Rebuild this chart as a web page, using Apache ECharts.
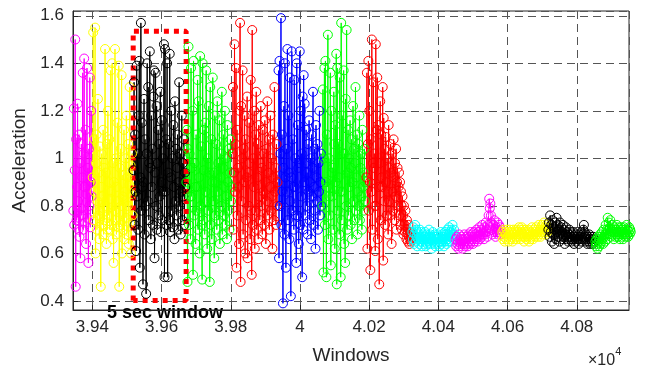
<!DOCTYPE html>
<html lang="en">
<head>
	<meta charset="UTF-8">
	<title>windows</title>
	<style type="text/css">
	body,html{
		width: 100%;
		height: 100%;
		margin: 0;
		padding: 0;
		background: #fff;
	}
	#container{
		width: 645px;
		height: 371px;
	}
	</style>
</head>
<body>
<div id="container"></div>
<script type="text/javascript" src="https://cdn.jsdelivr.net/npm/echarts@6/dist/echarts.min.js"></script>
<script type="text/javascript">
	// window index ranges of each segment (raw units, axis shows x 10^4)
	var segStart = [39345, 39401, 39519, 39672, 39805, 39938, 40065, 40192, 40325, 40450, 40585, 40718, 40854];
	var segEnd   = [39398, 39516, 39669, 39802, 39935, 40062, 40189, 40322, 40447, 40582, 40715, 40851, 40956];
	var segColor = ['#ff00ff', '#ffff00', '#000000', '#00ff00', '#ff0000', '#0000ff', '#00ff00',
		'#ff0000', '#00ffff', '#ff00ff', '#ffff00', '#000000', '#00ff00'];

	// acceleration values per segment
	var magenta1 = [0.78, 1.21, 0.72, 0.95, 1.50, 0.46, 1.08, 0.74, 0.88, 1.23, 0.82, 0.70, 1.10, 0.67,
		0.98, 0.58, 0.79, 1.06, 0.76, 0.92, 1.36, 0.70, 1.02, 1.42, 0.88, 0.73, 1.12, 0.64, 0.85, 1.38,
		0.75, 0.96, 0.56, 1.04, 0.80, 1.34, 0.71, 0.90, 1.20, 0.84];
	var yellow1 = [0.92, 1.53, 0.74, 1.08, 0.86, 1.55, 0.60, 0.98, 1.10, 0.70, 0.82, 1.25, 0.76, 0.94,
		0.66, 1.05, 0.78, 0.46, 0.88, 1.02, 0.72, 0.84, 1.12, 0.68, 0.96, 0.74, 1.46, 0.80, 0.94, 0.64,
		1.06, 0.70, 1.20, 0.76, 0.90, 1.08, 0.70, 0.83, 1.37, 0.86, 0.72, 1.40, 0.66, 0.98, 0.56, 0.90,
		0.78, 1.46, 0.74, 1.00, 0.68, 0.88, 1.15, 0.82, 0.71, 1.39, 0.46, 0.96, 0.72, 1.04, 0.80, 1.35,
		0.60, 0.84, 0.93, 0.70, 1.12, 0.66, 0.86, 1.00, 0.75, 1.18, 0.68, 0.92, 0.80, 1.06, 0.64, 0.89,
		1.30, 0.73, 0.97, 0.60, 0.85, 1.02, 0.76];
	var black1 = [0.95, 1.32, 0.72, 1.10, 0.86, 0.61, 1.39, 0.84, 1.02, 0.70, 1.18, 1.41, 0.54, 0.92,
		1.57, 0.78, 1.15, 0.88, 0.47, 0.90, 1.25, 0.68, 1.08, 0.80, 0.43, 1.02, 1.40, 0.82, 1.30, 0.74,
		0.98, 1.45, 0.96, 0.66, 1.18, 0.88, 1.04, 0.72, 1.26, 1.37, 0.58, 0.94, 1.36, 0.80, 1.22, 0.70,
		0.98, 1.12, 0.76, 1.06, 0.84, 1.28, 0.69, 0.90, 1.16, 0.74, 1.00, 0.86, 1.48, 0.50, 1.46, 0.86,
		1.08, 0.72, 1.40, 0.50, 0.94, 1.06, 0.74, 1.44, 0.69, 0.92, 1.20, 0.78, 1.00, 0.71, 1.14, 0.88,
		0.66, 1.24, 0.82, 1.04, 0.76, 0.96, 1.10, 0.70, 0.90, 1.32, 0.80, 1.02, 0.68, 0.86, 1.18, 0.74,
		0.98, 0.84, 1.08, 0.72, 0.94, 0.88];
	var green1 = [0.90, 1.12, 0.48, 1.04, 1.47, 0.72, 1.02, 0.84, 0.66, 1.38, 0.84, 0.96, 1.20, 0.51,
		1.41, 0.76, 0.98, 0.88, 0.64, 1.10, 0.78, 0.88, 1.33, 0.70, 1.24, 0.92, 0.60, 1.43, 0.80, 1.05,
		0.72, 0.49, 1.40, 0.74, 0.95, 1.12, 0.68, 1.15, 0.86, 1.37, 0.82, 0.62, 1.00, 0.78, 1.22, 0.94,
		0.48, 1.30, 0.72, 1.08, 0.66, 0.90, 1.34, 0.82, 0.94, 0.58, 1.18, 0.76, 0.90, 1.06, 0.70, 1.24,
		0.86, 0.98, 0.74, 1.16, 0.64, 0.92, 1.02, 0.80, 1.28, 0.68, 0.96, 1.10, 0.76, 0.88, 1.20, 0.72,
		1.00, 0.84, 0.66, 1.14, 0.90, 0.78, 1.04, 0.70, 0.94, 1.08, 0.82, 0.88];
	var red1 = [1.02, 1.30, 0.70, 0.94, 1.48, 0.86, 1.06, 1.38, 0.54, 1.12, 0.76, 0.96, 0.88, 0.64,
		1.20, 1.57, 0.48, 1.22, 0.82, 1.00, 1.37, 0.68, 1.04, 0.90, 1.18, 0.60, 1.08, 0.74, 0.92, 1.26,
		0.58, 0.94, 0.80, 1.15, 0.98, 0.66, 1.33, 0.78, 0.51, 1.54, 0.72, 1.00, 0.88, 1.20, 0.62, 1.10,
		0.78, 1.28, 0.70, 0.92, 1.06, 0.66, 1.14, 0.84, 0.74, 0.98, 1.22, 0.80, 0.96, 0.68, 1.12, 0.86,
		1.02, 0.72, 1.16, 0.90, 0.64, 1.04, 0.82, 1.24, 0.76, 0.94, 1.08, 0.70, 0.88, 1.18, 0.78, 1.00,
		0.84, 0.62, 1.10, 0.92, 0.74, 1.30, 0.86, 0.96, 0.72, 1.06, 0.80, 0.90];
	var blue1 = [1.37, 0.58, 1.41, 0.80, 1.02, 1.59, 0.72, 1.10, 0.86, 0.39, 0.96, 1.22, 0.68, 1.40,
		0.92, 0.54, 1.04, 0.86, 1.46, 0.74, 1.18, 0.94, 0.66, 1.34, 0.82, 0.42, 0.92, 1.45, 0.78, 1.08,
		0.88, 0.70, 1.33, 0.88, 1.00, 0.76, 0.56, 1.40, 0.76, 1.14, 0.96, 0.64, 0.98, 1.45, 0.72, 1.20,
		0.84, 1.02, 0.50, 1.26, 0.70, 1.35, 0.90, 1.23, 0.76, 0.98, 1.12, 0.80, 0.94, 0.68, 1.06, 0.86,
		1.16, 0.74, 0.90, 1.00, 0.66, 1.10, 0.84, 0.96, 1.28, 0.72, 0.88, 1.04, 0.78, 0.62, 1.14, 0.92,
		0.82, 1.06, 0.70, 0.98, 0.86, 1.20, 0.76, 0.90, 1.02, 0.80];
	var green2 = [0.80, 1.29, 0.52, 1.00, 1.38, 0.72, 1.41, 0.90, 0.50, 1.10, 0.88, 1.52, 0.66, 1.00,
		0.84, 0.76, 1.36, 0.55, 1.20, 0.94, 0.84, 0.96, 0.70, 1.28, 1.06, 0.62, 1.14, 0.90, 1.44, 0.47,
		1.38, 0.78, 1.06, 0.92, 0.68, 1.34, 0.86, 0.50, 1.57, 0.74, 1.18, 0.86, 1.02, 1.37, 0.64, 1.02,
		0.56, 1.25, 0.80, 1.54, 0.70, 0.94, 1.12, 0.76, 1.00, 0.88, 1.16, 0.72, 0.96, 1.08, 0.66, 0.90,
		1.22, 0.82, 1.04, 0.74, 0.98, 1.30, 0.78, 0.92, 1.10, 0.68, 0.86, 1.06, 0.80, 1.18, 0.74, 0.96,
		1.02, 0.84, 0.70, 1.12, 0.88, 0.94, 0.78, 1.04, 0.82, 0.90];
	var red2 = [0.92, 1.36, 0.62, 1.06, 1.41, 0.78, 1.20, 0.90, 0.53, 1.08, 0.86, 1.50, 0.70, 0.98,
		1.32, 0.96, 1.02, 0.80, 0.61, 1.48, 0.80, 1.12, 1.34, 0.66, 1.14, 0.88, 0.47, 0.98, 1.24, 0.74,
		1.10, 0.92, 0.88, 1.30, 0.57, 1.17, 0.82, 1.04, 0.72, 1.09, 0.90, 0.76, 1.00, 0.86, 0.68, 1.14,
		0.82, 0.96, 0.76, 1.06, 0.94, 0.64, 1.02, 0.86, 0.78, 1.08, 0.92, 0.74, 0.98, 0.84, 1.04, 0.70,
		0.90, 0.96, 0.80, 0.88, 0.94, 0.76, 0.90, 0.72, 0.86, 0.80, 0.70, 0.84, 0.76, 0.68, 0.80, 0.72,
		0.69, 0.78, 0.70, 0.66, 0.74, 0.68, 0.65, 0.72, 0.67, 0.64, 0.69, 0.66, 0.65, 0.68];
	var cyan1 = [0.69, 0.66, 0.71, 0.64, 0.68, 0.72, 0.65, 0.70, 0.67, 0.63, 0.69, 0.66, 0.68, 0.64,
		0.70, 0.67, 0.65, 0.69, 0.63, 0.66, 0.68, 0.64, 0.67, 0.65, 0.69, 0.63, 0.66, 0.68, 0.64, 0.67,
		0.65, 0.70, 0.66, 0.68, 0.64, 0.67, 0.62, 0.66, 0.69, 0.65, 0.67, 0.64, 0.68, 0.63, 0.66, 0.65,
		0.67, 0.64, 0.68, 0.66, 0.63, 0.67, 0.65, 0.69, 0.64, 0.66, 0.68, 0.65, 0.67, 0.63, 0.66, 0.69,
		0.65, 0.68, 0.64, 0.70, 0.66, 0.68, 0.65, 0.71, 0.67, 0.69, 0.65, 0.70, 0.67, 0.72, 0.68, 0.66,
		0.70, 0.68];
	var magenta2 = [0.66, 0.63, 0.67, 0.64, 0.65, 0.62, 0.68, 0.63, 0.66, 0.64, 0.67, 0.65, 0.62, 0.66,
		0.64, 0.68, 0.63, 0.65, 0.67, 0.64, 0.66, 0.63, 0.68, 0.65, 0.67, 0.64, 0.69, 0.65, 0.68, 0.66,
		0.64, 0.67, 0.69, 0.65, 0.68, 0.66, 0.70, 0.67, 0.65, 0.69, 0.67, 0.71, 0.66, 0.68, 0.70, 0.67,
		0.72, 0.68, 0.69, 0.66, 0.71, 0.68, 0.73, 0.69, 0.70, 0.67, 0.72, 0.76, 0.83, 0.79, 0.81, 0.76,
		0.73, 0.70, 0.68, 0.72, 0.69, 0.74, 0.70, 0.67, 0.71, 0.69, 0.73, 0.68, 0.70, 0.72, 0.69, 0.71,
		0.68, 0.70];
	var yellow2 = [0.69, 0.66, 0.70, 0.67, 0.65, 0.69, 0.68, 0.66, 0.70, 0.67, 0.69, 0.65, 0.68, 0.70,
		0.66, 0.69, 0.67, 0.68, 0.65, 0.70, 0.68, 0.66, 0.69, 0.67, 0.70, 0.68, 0.66, 0.69, 0.67, 0.71,
		0.68, 0.70, 0.66, 0.69, 0.71, 0.68, 0.70, 0.67, 0.65, 0.69, 0.67, 0.70, 0.66, 0.68, 0.69, 0.67,
		0.70, 0.65, 0.68, 0.66, 0.69, 0.67, 0.71, 0.68, 0.66, 0.70, 0.68, 0.67, 0.69, 0.71, 0.68, 0.70,
		0.67, 0.69, 0.72, 0.68, 0.70, 0.67, 0.71, 0.69, 0.72, 0.68, 0.70, 0.73, 0.69, 0.71, 0.68, 0.72,
		0.70, 0.69];
	var black2 = [0.70, 0.73, 0.67, 0.76, 0.69, 0.72, 0.65, 0.74, 0.68, 0.71, 0.64, 0.70, 0.73, 0.66,
		0.75, 0.69, 0.72, 0.67, 0.70, 0.65, 0.73, 0.68, 0.71, 0.66, 0.69, 0.72, 0.67, 0.70, 0.64, 0.68,
		0.71, 0.66, 0.69, 0.67, 0.65, 0.68, 0.70, 0.66, 0.69, 0.67, 0.65, 0.68, 0.66, 0.69, 0.64, 0.67,
		0.66, 0.68, 0.65, 0.67, 0.69, 0.66, 0.64, 0.68, 0.66, 0.67, 0.65, 0.69, 0.66, 0.68, 0.70, 0.72,
		0.69, 0.67, 0.65, 0.68, 0.66, 0.64, 0.67, 0.65, 0.68, 0.66, 0.64, 0.67, 0.65, 0.66, 0.64, 0.67,
		0.65, 0.66];
	var green3 = [0.65, 0.63, 0.66, 0.64, 0.62, 0.67, 0.65, 0.63, 0.66, 0.68, 0.64, 0.67, 0.65, 0.69,
		0.66, 0.64, 0.70, 0.67, 0.68, 0.65, 0.72, 0.68, 0.70, 0.66, 0.75, 0.70, 0.73, 0.68, 0.71, 0.74,
		0.67, 0.70, 0.69, 0.72, 0.68, 0.70, 0.66, 0.71, 0.69, 0.67, 0.70, 0.68, 0.72, 0.69, 0.67, 0.71,
		0.68, 0.70, 0.66, 0.69, 0.71, 0.67, 0.70, 0.68, 0.66, 0.69, 0.71, 0.68, 0.70, 0.67, 0.69, 0.72,
		0.68, 0.70, 0.67, 0.69, 0.71, 0.68, 0.70, 0.69];
	var segValues = [magenta1, yellow1, black1, green1, red1, blue1, green2, red2, cyan1, magenta2,
		yellow2, black2, green3];

	// the dotted "5 sec window" box, in data units
	var windowBox = [[39518, 0.402], [39518, 1.535], [39671, 1.535], [39671, 0.402], [39518, 0.402]];

	var axisColor = '#262626';
	var font = '"Liberation Sans", Arial, sans-serif';

	var series = segValues.map(function (vals, s) {
		var step = (segEnd[s] - segStart[s]) / (vals.length - 1);
		var data = vals.map(function (v, i) {
			return [segStart[s] + i * step, v];
		});
		return {
			type: 'line',
			data: data,
			symbol: 'circle',
			symbolSize: 9,
			showAllSymbol: true,
			clip: false,
			lineStyle: { color: segColor[s], width: 1 },
			itemStyle: { color: 'rgba(0,0,0,0)', borderColor: segColor[s], borderWidth: 1 },
			emphasis: { disabled: true },
			silent: true
		};
	});
	series.push({
		type: 'line',
		data: windowBox,
		symbol: 'none',
		clip: false,
		lineStyle: { color: '#ff0000', width: 5, type: [5, 5], cap: 'butt' },
		silent: true
	});

	var xLabel = function (v) {
		if (Math.abs(v % 200) > 1e-6) return '';
		return String(parseFloat((v / 1e4).toFixed(2)));
	};

	var option = {
		animation: false,
		backgroundColor: '#fff',
		textStyle: { fontFamily: font },
		grid: { left: 73, right: 16, top: 11, bottom: 61, show: true, borderColor: axisColor, borderWidth: 1 },
		xAxis: {
			type: 'value',
			min: 39344,
			max: 40951,
			splitNumber: 8,
			name: 'Windows',
			nameLocation: 'middle',
			nameGap: 36,
			nameTextStyle: { color: axisColor, fontSize: 19, fontFamily: font },
			axisLine: { lineStyle: { color: axisColor } },
			axisTick: { inside: true, length: 5, lineStyle: { color: axisColor } },
			axisLabel: { color: axisColor, fontSize: 17, margin: 9, formatter: xLabel,
				showMinLabel: false, showMaxLabel: false, fontFamily: font },
			splitLine: { show: true, lineStyle: { color: '#555', type: [8, 5], width: 1 } }
		},
		yAxis: {
			type: 'value',
			min: 0.362,
			max: 1.62,
			splitNumber: 6,
			name: 'Acceleration',
			nameLocation: 'middle',
			nameGap: 28,
			nameTextStyle: { color: axisColor, fontSize: 19, fontFamily: font },
			axisLine: { show: true, lineStyle: { color: axisColor } },
			axisTick: { show: true, inside: true, length: 5, lineStyle: { color: axisColor } },
			axisLabel: { color: axisColor, fontSize: 17, margin: 9, showMinLabel: false, showMaxLabel: false,
				fontFamily: font,
				formatter: function (v) { return String(parseFloat(v.toFixed(2))); } },
			splitLine: { show: true, lineStyle: { color: '#555', type: [8, 5], width: 1 } }
		},
		graphic: [{
			type: 'text',
			left: 107,
			top: 304,
			style: { text: '5 sec window', fontSize: 18, fontWeight: 'bold', fill: '#000', fontFamily: font }
		}, {
			type: 'text',
			left: 588,
			top: 346,
			style: {
				text: '{a|×10}{b|4}',
				fill: axisColor,
				rich: {
					a: { fontSize: 16, fontFamily: font, fill: axisColor, padding: [10, 0, 0, 0] },
					b: { fontSize: 11, fontFamily: font, fill: axisColor, padding: [0, 0, 8, 0] }
				}
			}
		}],
		series: series
	};

	var chart = echarts.init(document.getElementById('container'));
	chart.setOption(option, true);
	window.addEventListener('resize', function () {
		chart.resize();
	});
</script>
</body>
</html>
